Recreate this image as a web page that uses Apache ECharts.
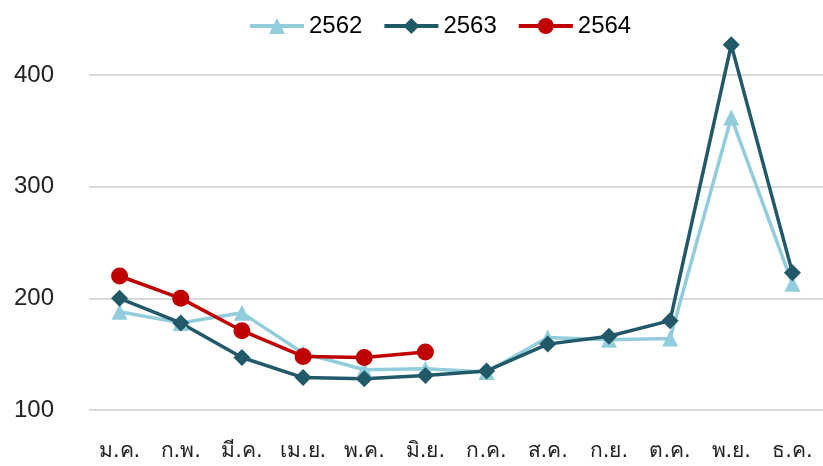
<!DOCTYPE html>
<html>
<head>
<meta charset="utf-8">
<script src="https://cdn.jsdelivr.net/npm/echarts@6/dist/echarts.min.js"></script>
<style>
  html, body { margin: 0; padding: 0; background: #fff; }
  #chart { width: 823px; height: 466px; }
</style>
</head>
<body>
<div id="chart"></div>
<script>
  // เดือน
  var months = ['ม.ค.', 'ก.พ.', 'มี.ค.', 'เม.ย.', 'พ.ค.', 'มิ.ย.', 'ก.ค.', 'ส.ค.', 'ก.ย.', 'ต.ค.', 'พ.ย.', 'ธ.ค.'];
  var y2562 = [188, 178, 187, 151, 136, 137, 134, 165, 163, 164, 362, 213];
  var y2563 = [200, 178, 147, 129, 128, 131, 135, 159, 166, 180, 427, 223];
  var y2564 = [220, 200, 171, 148, 147, 152];

  var thaiFont = 'Tahoma, "DejaVu Sans", "Noto Sans", sans-serif';
  var numFont = '"Liberation Sans", Arial, sans-serif';

  var chart = echarts.init(document.getElementById('chart'));

  function mkSeries(name, data, color, symbol, size) {
    return {
      name: name,
      type: 'line',
      data: data,
      symbol: symbol,
      symbolSize: size,
      clip: false,
      lineStyle: { color: color, width: 3.5 },
      itemStyle: { color: color },
      emphasis: { disabled: true }
    };
  }

  chart.setOption({
    animation: false,
    legend: {
      top: 9,
      left: 243,
      itemWidth: 54,
      itemHeight: 20,
      itemGap: 20,
      textStyle: { fontSize: 24, color: '#000', fontFamily: numFont },
      lineStyle: { width: 4 },
      data: ['2562', '2563', '2564']
    },
    grid: { left: 89, right: 0, top: 75, bottom: 56 },
    xAxis: {
      type: 'category',
      data: months,
      boundaryGap: true,
      axisLine: { show: false },
      axisTick: { show: false },
      axisLabel: { interval: 0, fontSize: 21, color: '#222', margin: 31, fontFamily: thaiFont }
    },
    yAxis: {
      type: 'value',
      min: 100,
      max: 400,
      interval: 100,
      axisLine: { show: false },
      axisTick: { show: false },
      axisLabel: { fontSize: 24, color: '#222', margin: 35, fontFamily: numFont },
      splitLine: { lineStyle: { color: '#d9d9d9', width: 2 } }
    },
    series: [
      mkSeries('2562', y2562, '#92cddc', 'triangle', 16),
      mkSeries('2563', y2563, '#215968', 'diamond', 17),
      mkSeries('2564', y2564, '#c00000', 'circle', 17)
    ]
  });
</script>
</body>
</html>
